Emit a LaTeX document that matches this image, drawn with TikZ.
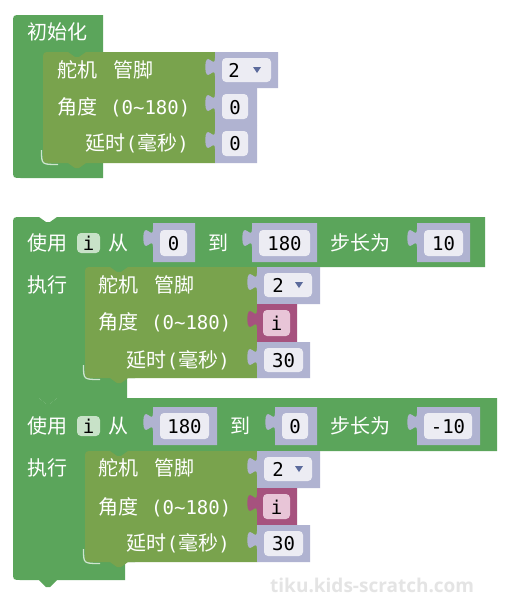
\documentclass[tikz,border=0pt]{standalone}
\usepackage{fontspec}
\newfontfamily\cjk{Noto Sans CJK SC}
\newfontfamily\mono{DejaVu Sans Mono}
\newfontfamily\wmfont{Open Sans}
\definecolor{loopg}{HTML}{5BA55B}
\definecolor{servo}{HTML}{79A34D}
\definecolor{val}{HTML}{B0B3D1}
\definecolor{fld}{HTML}{ECECF3}
\definecolor{varm}{HTML}{A6527E}
\definecolor{varf}{HTML}{E8C5D7}
\definecolor{ifld}{HTML}{C8E2C8}
\definecolor{wmk}{HTML}{E4E4E4}
\definecolor{tri}{HTML}{5C6B9C}
\newcommand\monop[1]{{\mono\fontsize{19}{19}\selectfont #1}}
\tikzset{
  cn/.style={font=\cjk\fontsize{20}{20}\selectfont, text=white, anchor=base west, inner sep=0pt},
  cne/.style={cn, anchor=base east},
  mn/.style={font=\mono\fontsize{19}{19}\selectfont, text=white, anchor=base west, inner sep=0pt},
  num/.style={font=\mono\fontsize{19}{19}\selectfont, text=black, anchor=base, inner sep=0pt},
  hl/.style={draw=white!70!loopg, line width=1.3pt},
}
\newcommand\stmtblk[5]{%
  \fill[#5] (#1,{#2+8}) .. controls (#1,#2) .. ({#1+8},#2) -- ({#1+25},#2) -- ({#1+32},{#2+5}) -- ({#1+36},{#2+5}) -- ({#1+43},#2) -- (#3,#2) -- (#3,#4) -- ({#1+43},#4) -- ({#1+36},{#4+5}) -- ({#1+32},{#4+5}) -- ({#1+25},#4) -- ({#1+8},#4) .. controls (#1,#4) .. (#1,{#4-8}) -- cycle;}
\newcommand\vblk[5]{%
  \fill[#5] (#1,#2) -- (#1,{#2+6}) .. controls (#1,{#2+18}) and ({#1-9.6},{#2-3.6}) .. ({#1-9.6},{#2+15}) .. controls ({#1-9.6},{#2+33.6}) and (#1,{#2+12}) .. (#1,{#2+24}) -- (#1,#4) -- (#3,#4) -- (#3,#2) -- cycle;}
\newcommand\fieldbox[5]{\fill[#5, rounded corners=4pt] (#1,#2) rectangle (#3,#4);}
\newcommand\dtri[2]{\fill[tri] ({#1-4},{#2-3}) -- ({#1+4},{#2-3}) -- (#1,{#2+3}) -- cycle;}
\begin{document}
\begin{tikzpicture}[x=1pt,y=-1pt]
\useasboundingbox (0,0) rectangle (509,600);
\fill[white] (0,0) rectangle (509,600);

% ---------- block 1 ----------
\fill[loopg] (13,23) .. controls (13,15) .. (21,15) -- (103,15) -- (103,52) -- (93,52) -- (93,163) -- (103,163) -- (103,178) -- (21,178) .. controls (13,178) .. (13,170) -- cycle;
\draw[hl] (41.5,150) .. controls (41.5,164.5) .. (58,164.5);
\stmtblk{43}{52}{215}{163}{servo}
\vblk{215}{52}{278}{88}{val}
\vblk{215}{88}{257}{125}{val}
\vblk{215}{125}{257}{163}{val}
\fieldbox{222}{58}{271}{82}{fld}
\fieldbox{222}{94}{248}{119}{fld}
\fieldbox{222}{131}{248}{156}{fld}
\node[cn] (b1t) at (27,39) {初始化};
\node[cn] (b1a) at (57,77) {舵机};
\node[cn] (b1b) at (113,77) {管脚};
\node[cn] (b1c) at (57,114) {角度};
\node[mn] (b1d) at (110,114) {(0\char"007E 180)};
\node[cne] (b1e) at (189,150) {延时\monop{(}毫秒\monop{)}};
\node[num] (b1v1) at (234,77) {2};
\dtri{257}{70}
\node[num] (b1v2) at (235,114) {0};
\node[num] (b1v3) at (235,150) {0};

% ---------- loop 1 ----------
\fill[loopg] (13,225) .. controls (13,217) .. (21,217) -- (39,217) -- (46,222) -- (50,222) -- (57,217) -- (485,217) -- (485,267) -- (135,267) -- (135,378) -- (127,378) -- (127,398) -- (57,398) -- (50,404) -- (46,404) -- (39,398) -- (13,398) -- cycle;
\draw[hl] (83.5,365) .. controls (83.5,379.5) .. (100,379.5);
\stmtblk{85}{267}{257}{378}{servo}
\vblk{153}{223}{195}{262}{val}
\vblk{252}{223}{317}{262}{val}
\vblk{417}{223}{470}{262}{val}
\fieldbox{160}{230}{187}{256}{fld}
\fieldbox{259}{230}{310}{256}{fld}
\fieldbox{424}{230}{463}{256}{fld}
\fieldbox{77}{233}{100}{253}{ifld}
\node[cn] (l1a) at (27,250) {使用};
\node[num] (l1i) at (88.5,250) {i};
\node[cn] (l1b) at (108,250) {从};
\node[cn] (l1c) at (208,250) {到};
\node[cn] (l1d) at (330,250) {步长为};
\node[num] (l1v1) at (173.5,250) {0};
\node[num] (l1v2) at (284.5,250) {180};
\node[num] (l1v3) at (443.5,250) {10};
\node[cn] (l1e) at (27,292) {执行};
\vblk{257}{267}{320}{304}{val}
\vblk{257}{304}{297}{342}{varm}
\vblk{257}{342}{310}{378}{val}
\fieldbox{264}{273}{312}{297}{fld}
\fieldbox{263}{310}{290}{336}{varf}
\fieldbox{264}{348}{303}{372}{fld}
\node[cn] (l1f) at (98,292) {舵机};
\node[cn] (l1g) at (154,292) {管脚};
\node[cn] (l1h) at (98,329) {角度};
\node[mn] (l1j) at (151,329) {(0\char"007E 180)};
\node[cne] (l1k) at (230,367) {延时\monop{(}毫秒\monop{)}};
\node[num] (l1v4) at (278,292) {2};
\dtri{299}{285}
\node[num] (l1v5) at (276.5,330) {i};
\node[num] (l1v6) at (283.5,367) {30};

% ---------- loop 2 ----------
\fill[loopg] (13,398) -- (39,398) -- (46,404) -- (50,404) -- (57,398) -- (497,398) -- (497,451) -- (135,451) -- (135,562) -- (125,562) -- (125,580) -- (57,580) -- (50,587) -- (46,587) -- (39,580) -- (21,580) .. controls (13,580) .. (13,572) -- cycle;
\draw[hl] (83.5,549) .. controls (83.5,563.5) .. (100,563.5);
\stmtblk{85}{451}{257}{562}{servo}
\vblk{153}{407}{217}{445}{val}
\vblk{275}{407}{317}{445}{val}
\vblk{417}{407}{480}{445}{val}
\fieldbox{160}{413}{209}{439}{fld}
\fieldbox{282}{413}{308}{439}{fld}
\fieldbox{424}{413}{472}{439}{fld}
\fieldbox{77}{416}{100}{436}{ifld}
\node[cn] (l2a) at (27,433) {使用};
\node[num] (l2i) at (88.5,433) {i};
\node[cn] (l2b) at (108,433) {从};
\node[cn] (l2c) at (230,433) {到};
\node[cn] (l2d) at (330,433) {步长为};
\node[num] (l2v1) at (184.5,433) {180};
\node[num] (l2v2) at (295,433) {0};
\node[num] (l2v3) at (448,433) {-10};
\node[cn] (l2e) at (27,475) {执行};
\vblk{257}{451}{320}{488}{val}
\vblk{257}{488}{297}{525}{varm}
\vblk{257}{525}{310}{562}{val}
\fieldbox{264}{457}{312}{481}{fld}
\fieldbox{263}{494}{290}{519}{varf}
\fieldbox{264}{531}{303}{556}{fld}
\node[cn] (l2f) at (98,475) {舵机};
\node[cn] (l2g) at (154,475) {管脚};
\node[cn] (l2h) at (98,514) {角度};
\node[mn] (l2j) at (151,514) {(0\char"007E 180)};
\node[cne] (l2k) at (230,550) {延时\monop{(}毫秒\monop{)}};
\node[num] (l2v4) at (278,476) {2};
\dtri{299}{469}
\node[num] (l2v5) at (276.5,514) {i};
\node[num] (l2v6) at (283.5,550) {30};

% ---------- watermark ----------
\node[font=\wmfont\bfseries\fontsize{19}{19}\selectfont, text=wmk, anchor=base west, inner sep=0pt] (wm) at (270,592) {tiku.kids-scratch.com};
\end{tikzpicture}
\end{document}
